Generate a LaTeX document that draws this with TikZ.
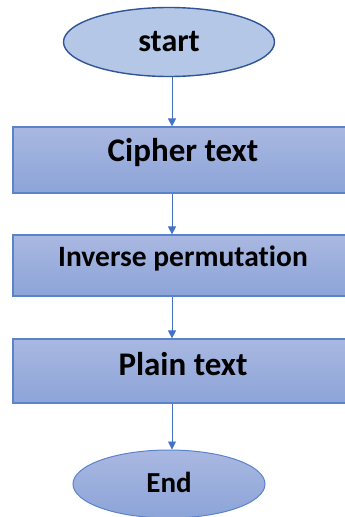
\documentclass[tikz,border=0pt]{standalone}
\usepackage{fontspec}
\setmainfont[Ligatures=NoCommon]{Carlito}
\usetikzlibrary{shapes.geometric,arrows.meta}
\definecolor{boxtop}{HTML}{A9B8E1}
\definecolor{boxbot}{HTML}{8CA4D8}
\definecolor{boxline}{HTML}{5B83CC}
\definecolor{startfill}{HTML}{B4C7E7}
\definecolor{startline}{HTML}{2F5597}
\definecolor{arrowc}{HTML}{4472C4}
\newcommand{\uptext}[2]{\raisebox{#1}[\height][\depth]{#2}}
\begin{document}
\begin{tikzpicture}[x=1pt,y=-1pt,
  procbox/.style={draw=boxline,line width=1.2pt,top color=boxtop,bottom color=boxbot,
    minimum width=340pt,inner sep=0pt,font=\bfseries},
  termshape/.style={ellipse,inner sep=0pt,font=\bfseries},
  flow/.style={draw=arrowc,line width=0.9pt,-{Triangle[length=8pt,width=8pt]}}]
\useasboundingbox (0,0) rectangle (345,517);
\clip (0,0) rectangle (345,517);
\node[termshape,draw=startline,line width=1.4pt,fill=startfill,minimum width=211pt,minimum height=69pt,font=\bfseries\fontsize{32}{36}\selectfont] (start) at (169,42) {start};
\node[procbox,minimum height=66pt,font=\bfseries\fontsize{33}{38}\selectfont] (cipher) at (183,160) {\uptext{7pt}{Cipher text}};
\node[procbox,minimum height=61pt,font=\bfseries\fontsize{29.5}{34}\selectfont] (inv) at (183,265.5) {\uptext{7pt}{Inverse permutation}};
\node[procbox,minimum height=64pt,font=\bfseries\fontsize{33}{38}\selectfont] (plain) at (183,371) {\uptext{7pt}{Plain text}};
\node[termshape,draw=boxline,line width=1pt,top color=boxtop,bottom color=boxbot,minimum width=192pt,minimum height=68pt,font=\bfseries\fontsize{29}{34}\selectfont] (end) at (169,484) {\uptext{2pt}{End}};
\draw[flow] (start.south -| 172,0) -- (cipher.north -| 172,0);
\draw[flow] (cipher.south -| 172,0) -- (inv.north -| 172,0);
\draw[flow] (inv.south -| 172,0) -- (plain.north -| 172,0);
\draw[flow] (plain.south -| 172,0) -- (end.north -| 172,0);
\end{tikzpicture}
\end{document}
